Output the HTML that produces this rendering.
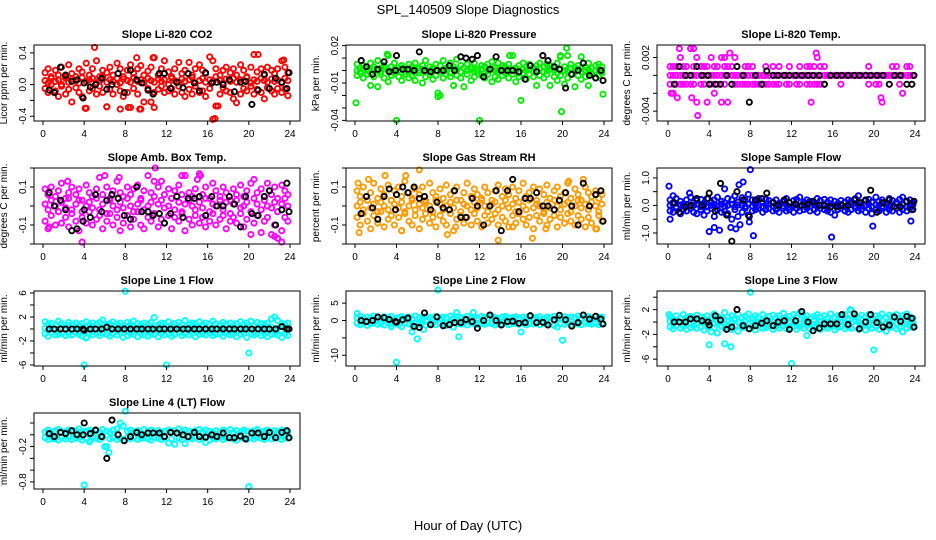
<!DOCTYPE html>
<html><head><meta charset="utf-8"><title>SPL_140509 Slope Diagnostics</title>
<style>
html,body{margin:0;padding:0;background:#fff;}
svg{display:block;font-family:"Liberation Sans",Arial,sans-serif;}
</style></head>
<body>
<svg id="chart" width="936" height="540" viewBox="0 0 936 540">
<text x="468" y="14" text-anchor="middle" font-size="13">SPL_140509  Slope Diagnostics</text>
<text x="468" y="530" text-anchor="middle" font-size="13">Hour of Day (UTC)</text>
</svg>
<script>
const hours=[0.2,0.5,0.8,1.2,1.5,1.8,2.2,2.5,2.8,3.2,3.5,3.8,4.2,4.5,4.8,5.2,5.5,5.8,6.2,6.5,6.8,7.2,7.5,7.8,8.2,8.5,8.8,9.2,9.5,9.8,10.2,10.5,10.8,11.2,11.5,11.8,12.2,12.5,12.8,13.2,13.5,13.8,14.2,14.5,14.8,15.2,15.5,15.8,16.2,16.5,16.8,17.2,17.5,17.8,18.2,18.5,18.8,19.2,19.5,19.8,20.2,20.5,20.8,21.2,21.5,21.8,22.2,22.5,22.8,23.2,23.5,23.8];
const blackHours=[0.6,1.1,1.7,2.2,2.8,3.3,3.9,4.0,4.6,5.1,5.7,6.2,6.7,7.3,7.9,8.5,9.1,9.6,10.2,10.7,11.3,11.8,12.4,13.0,13.6,14.1,14.7,15.2,15.8,16.4,16.9,17.5,18.1,18.6,19.2,19.7,20.3,20.9,21.5,22.0,22.6,23.2,23.7,23.9];
const xTicks=[0,4,8,12,16,20,24];

// CO2
const co2A=[0.15,0.2,0.1,0.18,0.12,0.22,0.08,0.25,0.14,0.1,0.2,0.16,0.27,0.12,0.2,0.3,0.1,0.18,0.15,0.22,0.12,0.27,0.2,0.1,0.18,0.25,0.14,0.2,0.24,0.12,0.17,0.22,0.34,0.12,0.2,0.3,0.16,0.1,0.2,0.28,0.14,0.18,0.28,0.12,0.2,0.25,0.18,0.14,0.35,0.3,0.2,0.12,0.18,0.22,0.15,0.2,0.12,0.25,0.18,0.1,0.22,0.38,0.16,0.2,0.12,0.22,0.18,0.14,0.2,0.3,0.22,0.15];
const co2B=[-0.05,-0.1,0.0,-0.08,-0.15,-0.02,-0.12,-0.06,-0.22,-0.04,-0.1,-0.15,-0.3,-0.08,-0.05,-0.12,-0.02,-0.1,-0.28,-0.06,-0.12,0.0,-0.08,-0.15,-0.1,-0.29,-0.05,-0.12,-0.31,-0.22,-0.05,-0.22,-0.1,-0.06,-0.02,-0.1,-0.08,-0.05,-0.12,-0.02,-0.1,-0.15,-0.06,-0.12,-0.02,-0.1,-0.08,-0.15,-0.05,-0.44,-0.27,-0.12,-0.04,-0.08,-0.1,-0.18,-0.23,-0.12,-0.05,-0.08,-0.02,-0.12,-0.06,-0.1,-0.18,-0.04,-0.08,-0.12,-0.05,-0.1,-0.06,-0.14];
const co2C=[0.05,0.02,0.08,0.04,0.06,0.0,0.1,0.03,0.07,0.05,0.02,0.09,0.04,0.06,0.08,0.02,0.05,0.1,0.03,0.06,0.04,0.08,0.02,0.07,0.05,0.03,0.09,0.04,0.06,0.02,0.08,0.05,0.03,0.07,0.04,0.06,0.0,0.08,0.05,0.03,0.07,0.04,0.06,0.09,0.02,0.05,0.08,0.03,0.06,0.04,0.1,0.05,0.02,0.07,0.04,0.08,0.03,0.06,0.05,0.09,0.02,0.06,0.04,0.08,0.05,0.03,0.07,0.04,0.06,0.02,0.08,0.05];
const co2OutX=[5.0,4.1,6.2,7.5,8.3,9.4,10.8,16.7,17.0,20.9,23.4,9.1,10.7];
const co2OutY=[0.47,-0.3,-0.28,-0.31,-0.29,-0.31,-0.29,-0.43,-0.27,0.38,0.31,0.34,0.34];
const co2Black=[-0.07,-0.1,0.22,0.12,0.04,0.06,-0.17,0.02,-0.03,0.0,0.08,-0.06,0.0,0.14,-0.1,0.18,0.06,0.02,-0.07,-0.12,0.14,0.14,-0.05,0.03,-0.04,0.14,0.02,-0.08,0.15,0.02,0.03,0.0,0.06,-0.09,0.03,0.04,-0.25,-0.07,0.13,-0.05,0.08,0.03,-0.05,0.15];

// Pressure
const presA=[0.005,0.002,0.004,0.001,0.006,0.003,0.008,0.002,0.004,0.012,0.003,0.006,0.002,0.004,0.001,0.005,0.003,0.006,0.002,0.004,0.008,0.003,0.001,0.005,0.004,0.008,0.002,0.006,0.003,0.009,0.004,0.002,0.005,0.003,0.006,0.001,0.004,0.003,0.005,0.007,0.002,0.006,0.004,0.003,0.005,0.012,0.002,0.004,0.006,0.003,0.005,0.002,0.004,0.006,0.003,0.005,0.004,0.002,0.006,0.011,0.003,0.012,0.005,0.002,0.004,0.011,0.003,0.006,0.002,0.004,0.005,0.003];
const presB=[-0.004,-0.002,-0.006,-0.003,-0.012,-0.005,-0.013,-0.003,-0.006,-0.009,-0.004,-0.002,-0.005,-0.008,-0.003,-0.006,-0.004,-0.008,-0.002,-0.01,-0.005,-0.003,-0.007,-0.004,-0.02,-0.006,-0.003,-0.005,-0.012,-0.004,-0.006,-0.013,-0.003,-0.008,-0.005,-0.002,-0.004,-0.006,-0.003,-0.009,-0.005,-0.007,-0.004,-0.002,-0.006,-0.003,-0.009,-0.005,-0.002,-0.007,-0.003,-0.005,-0.012,-0.004,-0.006,-0.003,-0.012,-0.005,-0.008,-0.004,-0.011,-0.006,-0.003,-0.013,-0.004,-0.007,-0.005,-0.012,-0.003,-0.006,-0.004,-0.002];
const presC=[0.0,-0.001,0.001,0.0,-0.002,0.001,0.0,-0.001,0.002,0.0,-0.001,0.001,0.0,0.002,-0.001,0.0,0.001,-0.002,0.0,0.001,-0.001,0.0,0.002,0.0,-0.001,0.001,0.0,-0.002,0.001,0.0,-0.001,0.002,0.0,0.001,-0.001,0.0,0.001,-0.002,0.0,0.001,0.0,-0.001,0.002,0.0,-0.001,0.001,0.0,-0.002,0.001,0.0,0.001,-0.001,0.0,0.002,-0.001,0.0,0.001,0.0,-0.002,0.001,0.0,-0.001,0.002,0.0,0.001,-0.001,0.0,0.001,-0.002,0.0,0.001,0.0];
const presOutX=[0.1,4.0,12.0,8.0,8.0,16.0,19.9,20.4,23.9,3.1,10.2,14.9,19.8];
const presOutY=[-0.026,-0.04,-0.04,-0.018,-0.021,-0.024,-0.033,0.018,-0.019,0.013,0.011,0.012,0.012];
const presBlack=[0.008,0.003,-0.003,0.001,0.007,-0.001,0.0,0.012,0.001,0.001,0.0,0.015,0.0,-0.001,0.0,0.0,0.004,0.0,0.011,0.01,0.009,0.012,-0.005,0.001,0.011,0.0,0.0,0.0,-0.001,-0.007,0.004,-0.001,0.012,0.008,0.003,0.001,-0.014,-0.003,0.0,0.006,-0.004,-0.006,0.0,-0.008];

// Li-820 Temp
const tempA=[0.001,0.001,0.001,0.002,0.001,0.001,0.003,0.001,0.002,0.001,0.001,0.001,0.002,0.001,0.001,0.002,0.001,0.001,0.001,0.002,0.0,0.0,0.001,0.001,0.001,0.0,0.0,0.0,0.001,0.0,0.001,0,0.001,0,0,0.001,0,0,0.001,0,0.001,0.001,0.001,0.002,0.001,0.001,0,0,0,0,0,0,0,0,0,0,0,0,0.001,0,0,0,0,0,0,0.001,0.001,0,0,0.001,0.001,0];
const tempB=[-0.001,-0.002,-0.001,-0.001,-0.001,-0.001,-0.001,-0.001,-0.003,-0.001,-0.001,-0.003,-0.001,-0.002,-0.001,-0.003,-0.001,-0.003,-0.001,-0.001,-0.001,-0.001,-0.001,-0.001,-0.001,-0.001,-0.001,-0.001,-0.001,-0.001,-0.001,-0.001,-0.001,0,-0.001,-0.001,0,-0.001,-0.001,0,-0.001,-0.001,-0.001,-0.001,-0.001,-0.001,0,0,0,0,-0.001,0,0,0,0,0,0,0,-0.001,0,-0.001,-0.001,-0.003,0,0,0,0,-0.001,-0.002,0,0,0];
const tempC=[0,0,0,0,0,0,0,0,0,0,0,0,0,0,0,0,0,0,0,0,0,0,0,0,0,0,0,0,0,0,0,0,0,0,0,0,0,0,0,0,0,0,0,0,0,0,0,0,0,0,0,0,0,0,0,0,0,0,0,0,0,0,0,0,0,0,0,0,0,0,0,0];
const tempOutX=[1.1,2.5,2.9,14.4,13.9,20.7,0.9,2.3,0.3,5.5,6.0];
const tempOutY=[0.003,0.003,-0.0045,0.0025,-0.003,-0.0025,-0.0025,-0.0025,-0.002,0.002,0.0025];
const tempBlack=[-0.001,0.001,0,0,0.001,0,0,-0.001,-0.001,-0.001,0,-0.001,0.001,0,-0.003,0,-0.001,0.0005,0,0,0,0,0,0,0,0,0,-0.001,0,0,0,0,0,0,0,0,0,0,-0.001,0,0,-0.001,-0.001,0];

// Amb Box Temp
const ambA=[0.09,0.06,0.1,0.05,0.08,0.12,0.04,0.07,0.1,0.06,0.09,0.03,0.11,0.07,0.05,0.09,0.15,0.06,0.1,0.04,0.08,0.13,0.07,0.05,0.1,0.06,0.09,0.11,0.04,0.08,0.16,0.07,0.05,0.1,0.13,0.06,0.09,0.04,0.08,0.11,0.06,0.16,0.07,0.05,0.09,0.17,0.06,0.1,0.04,0.12,0.08,0.05,0.1,0.07,0.03,0.09,0.06,0.11,0.05,0.08,0.12,0.14,0.07,0.09,0.05,0.12,0.06,0.1,0.04,0.11,0.08,0.06];
const ambB=[-0.08,-0.12,-0.05,-0.1,-0.03,-0.09,-0.06,-0.11,-0.04,-0.08,-0.13,-0.06,-0.09,-0.03,-0.1,-0.07,-0.05,-0.12,-0.08,-0.04,-0.1,-0.06,-0.13,-0.09,-0.05,-0.11,-0.07,-0.03,-0.1,-0.12,-0.06,-0.08,-0.04,-0.11,-0.07,-0.09,-0.05,-0.12,-0.06,-0.08,-0.04,-0.13,-0.07,-0.1,-0.05,-0.09,-0.06,-0.11,-0.08,-0.04,-0.1,-0.07,-0.05,-0.12,-0.08,-0.06,-0.09,-0.04,-0.11,-0.07,-0.15,-0.09,-0.05,-0.14,-0.08,-0.06,-0.15,-0.1,-0.17,-0.13,-0.06,-0.08];
const ambC=[0.01,-0.02,0.03,0.0,-0.03,0.02,-0.01,0.04,-0.02,0.01,0.03,-0.03,0.0,0.02,-0.01,0.04,-0.02,0.01,-0.04,0.03,0.0,-0.02,0.02,-0.01,0.04,0.0,-0.03,0.01,0.03,-0.02,0.0,0.02,-0.04,0.01,0.03,-0.01,0.0,0.04,-0.02,0.02,-0.03,0.01,0.03,0.0,-0.02,0.02,-0.01,0.04,-0.03,0.01,0.0,0.03,-0.02,0.02,-0.04,0.01,0.03,-0.01,0.0,0.02,-0.03,0.04,0.01,-0.02,0.03,0.0,-0.01,0.02,-0.03,0.01,0.04,0.0];
const ambOutX=[3.8,10.9,13.5,15.3,6.0,7.4,10.8,23.2,22.5,0.6,2.4,15.0];
const ambOutY=[-0.19,0.2,0.16,0.16,0.16,0.15,0.13,-0.19,-0.16,-0.11,0.13,0.14];
const ambBlack=[0.07,0.0,0.03,-0.02,-0.13,-0.12,-0.08,-0.02,-0.06,0.06,-0.03,0.03,0.06,0.04,-0.05,-0.07,0.1,-0.03,-0.03,-0.05,-0.04,-0.09,-0.04,0.05,-0.06,0.04,0.04,0.05,-0.05,0.05,0.0,0.0,0.05,0.01,-0.11,0.05,-0.04,-0.05,0.05,0.08,-0.1,-0.02,0.12,-0.03];

// Gas Stream RH
const rhA=[0.08,0.05,0.1,0.03,0.07,0.12,0.04,0.09,0.06,0.11,0.03,0.08,0.1,0.05,0.13,0.07,0.04,0.09,0.06,0.1,0.03,0.12,0.07,0.05,0.09,0.04,0.11,0.06,0.08,0.1,0.03,0.07,0.12,0.05,0.09,0.06,0.04,0.1,0.07,0.03,0.08,0.11,0.05,0.09,0.06,0.1,0.04,0.08,0.12,0.05,0.07,0.1,0.03,0.09,0.06,0.11,0.04,0.08,0.1,0.05,0.07,0.12,0.04,0.09,0.06,0.03,0.1,0.07,0.05,0.08,0.04,0.06];
const rhB=[-0.06,-0.1,-0.04,-0.08,-0.12,-0.05,-0.09,-0.03,-0.11,-0.07,-0.05,-0.1,-0.06,-0.13,-0.04,-0.08,-0.1,-0.05,-0.12,-0.07,-0.04,-0.09,-0.06,-0.11,-0.05,-0.08,-0.1,-0.04,-0.13,-0.07,-0.05,-0.09,-0.06,-0.1,-0.04,-0.08,-0.11,-0.05,-0.09,-0.07,-0.04,-0.1,-0.06,-0.08,-0.11,-0.05,-0.09,-0.04,-0.07,-0.1,-0.06,-0.12,-0.05,-0.08,-0.04,-0.1,-0.07,-0.05,-0.11,-0.06,-0.09,-0.04,-0.08,-0.1,-0.05,-0.07,-0.11,-0.06,-0.09,-0.12,-0.05,-0.08];
const rhC=[0.0,0.02,-0.02,0.03,-0.01,0.01,-0.03,0.02,0.0,-0.02,0.03,0.01,-0.01,0.02,-0.03,0.0,0.03,-0.02,0.01,-0.01,0.02,0.0,-0.03,0.03,0.01,-0.02,0.0,0.02,-0.01,0.03,-0.03,0.01,0.0,-0.02,0.02,-0.01,0.03,0.0,-0.03,0.01,0.02,-0.02,0.0,0.03,-0.01,0.01,-0.03,0.02,0.0,-0.02,0.03,-0.01,0.01,0.0,-0.03,0.02,-0.01,0.03,0.0,-0.02,0.01,0.02,-0.03,0.0,0.03,-0.01,0.01,-0.02,0.02,0.0,-0.03,0.01];
const rhOutX=[0.3,0.4,2.9,6.2,4.9,8.9,13.8,17.1,18.4,22.0,23.3,15.2,4.5,9.7,1.3,20.6];
const rhOutY=[0.12,-0.14,0.16,0.19,0.16,-0.15,-0.18,-0.17,-0.12,0.14,-0.12,-0.11,-0.13,-0.11,0.14,0.13];
const rhBlack=[-0.04,0.05,-0.01,-0.07,0.05,0.09,-0.02,0.06,0.1,0.07,0.1,0.04,0.05,-0.02,0.02,-0.01,-0.02,0.08,-0.06,-0.06,0.04,0.0,-0.1,0.0,0.08,-0.13,0.08,0.14,-0.03,0.04,0.04,0.07,0.0,0.0,-0.02,0.03,0.07,0.0,-0.1,0.12,0.0,0.06,0.08,-0.08];

// Sample Flow
const sfA=[0.2,0.1,0.25,0.15,0.05,0.2,0.3,0.1,0.18,0.22,0.08,0.25,0.12,0.2,0.3,0.15,0.1,0.25,0.2,0.35,0.12,0.28,0.18,0.4,0.2,0.15,0.25,0.1,0.22,0.18,0.12,0.2,0.08,0.15,0.25,0.1,0.18,0.22,0.3,0.12,0.2,0.15,0.1,0.25,0.18,0.22,0.12,0.2,0.15,0.08,0.18,0.12,0.2,0.15,0.25,0.35,0.1,0.18,0.22,0.12,0.3,0.15,0.2,0.1,0.25,0.18,0.12,0.22,0.3,0.15,0.2,0.1];
const sfB=[-0.2,-0.25,-0.1,-0.3,-0.15,-0.2,-0.1,-0.25,-0.3,-0.15,-0.35,-0.2,-0.1,-0.4,-0.15,-0.25,-0.2,-0.3,-0.5,-0.15,-0.4,-0.25,-0.1,-0.35,-0.2,-0.15,-0.1,-0.25,-0.15,-0.1,-0.2,-0.15,-0.25,-0.1,-0.2,-0.15,-0.25,-0.1,-0.2,-0.15,-0.1,-0.2,-0.15,-0.25,-0.1,-0.15,-0.2,-0.25,-0.35,-0.15,-0.1,-0.2,-0.25,-0.15,-0.1,-0.2,-0.15,-0.25,-0.1,-0.3,-0.15,-0.2,-0.1,-0.25,-0.15,-0.2,-0.1,-0.25,-0.15,-0.2,-0.1,-0.15];
const sfC=[0.0,0.05,-0.05,0.02,-0.03,0.04,-0.02,0.0,0.05,-0.04,0.02,-0.05,0.0,0.03,-0.02,0.05,-0.03,0.0,0.04,-0.05,0.02,0.0,-0.03,0.05,-0.02,0.03,0.0,-0.04,0.02,0.05,-0.03,0.0,0.04,-0.02,0.03,-0.05,0.0,0.02,-0.03,0.05,0.0,-0.02,0.04,-0.04,0.02,0.0,-0.03,0.05,0.0,-0.02,0.03,-0.04,0.0,0.05,-0.02,0.02,-0.03,0.0,0.04,-0.05,0.02,0.0,-0.03,0.04,-0.02,0.0,0.05,-0.03,0.02,-0.04,0.0,0.03];
const sfOutX=[0.1,0.2,0.5,4.0,4.5,5.5,6.1,6.6,6.9,7.3,7.0,8.0,8.3,7.9,15.9,19.9,23.6,2.1,5.0];
const sfOutY=[0.7,-0.5,0.35,-0.95,-0.8,0.6,-0.8,-0.85,0.75,0.85,-0.7,1.3,-1.1,-0.6,-1.15,-0.75,-0.57,0.45,-0.9];
const sfBlack=[0.1,-0.25,-0.05,0.0,0.25,0.0,0.25,0.45,-0.2,0.8,-0.35,-1.3,0.5,0.2,-0.4,0.2,0.25,0.45,0.1,0.0,0.2,0.1,0.05,0.0,0.05,0.15,0.0,0.0,-0.05,-0.05,0.0,0.0,0.2,0.1,0.2,0.55,-0.25,0.1,0.2,-0.05,-0.05,0.15,-0.15,0.15];

// Line 1 Flow
const l1A=[1.2,0.8,1.0,0.6,1.3,0.9,0.7,1.1,0.8,1.0,0.6,0.9,1.2,0.7,1.0,0.8,1.1,1.5,0.7,0.9,1.2,0.8,1.0,0.6,1.1,0.8,1.3,0.9,0.7,1.0,0.8,1.1,1.9,0.7,1.0,0.9,1.2,0.6,0.9,1.1,0.7,1.4,0.8,1.0,0.9,1.2,0.7,1.0,0.8,1.3,0.9,0.7,1.1,0.8,1.0,0.6,0.9,1.2,0.8,1.0,1.3,0.7,1.1,0.9,0.8,1.0,1.7,2.0,1.4,0.9,0.8,1.0];
const l1B=[-0.8,-1.2,-0.6,-1.0,-0.9,-0.7,-1.1,-0.8,-1.0,-0.6,-0.9,-1.2,-1.4,-0.7,-1.0,-0.8,-1.1,-0.7,-0.9,-1.2,-0.8,-1.0,-0.6,-1.4,-1.1,-0.8,-0.9,-1.3,-0.7,-1.0,-1.2,-0.8,-0.9,-1.3,-0.7,-1.0,-0.8,-1.2,-0.9,-0.6,-1.1,-0.8,-1.0,-0.7,-1.3,-0.9,-0.8,-1.0,-0.7,-1.1,-0.9,-0.8,-1.2,-0.7,-1.0,-0.8,-1.3,-0.9,-0.7,-1.4,-0.8,-1.0,-0.7,-1.1,-0.8,-1.3,-0.9,-0.7,-1.0,-1.4,-0.8,-1.1];
const l1C=[0.1,-0.2,0.3,0.0,-0.3,0.2,-0.1,0.3,-0.2,0.1,0.0,-0.3,0.2,-0.1,0.3,0.0,-0.2,0.1,0.3,-0.3,0.0,0.2,-0.1,0.1,-0.2,0.3,0.0,-0.3,0.2,-0.1,0.1,0.0,-0.2,0.3,-0.1,0.2,0.0,-0.3,0.1,0.3,-0.2,0.0,0.2,-0.1,0.3,-0.3,0.0,0.1,-0.2,0.2,0.0,-0.1,0.3,-0.3,0.1,0.0,-0.2,0.2,-0.1,0.3,0.0,-0.3,0.1,0.2,-0.2,0.0,0.3,-0.1,0.1,-0.3,0.2,0.0];
const l1OutX=[8.0,4.0,12.0,20.0,4.2];
const l1OutY=[6.3,-6.0,-6.0,-4.0,-1.5];
const l1Black=[0.0,0.0,0.0,0.0,0.0,0.0,0.0,-0.2,0.0,0.0,0.0,0.3,0.0,0.0,0.0,0.0,0.0,0.0,0.0,0.0,0.0,0.0,0.0,0.0,0.0,0.0,0.0,0.0,0.0,0.0,0.0,0.0,0.0,0.0,0.0,0.0,0.0,0.0,0.0,0.0,0.0,0.4,0.0,0.0];

// Line 2 Flow
const l2A=[0.8,1.2,0.5,1.0,0.7,1.3,0.9,0.6,1.1,0.8,1.2,0.5,0.9,1.1,0.7,1.0,0.6,1.3,0.8,0.5,1.1,0.9,0.7,1.2,0.6,1.0,0.8,1.3,0.7,1.1,0.9,0.5,1.2,0.8,1.0,0.6,1.1,0.9,0.7,1.3,0.8,0.5,1.0,1.2,0.7,0.9,1.1,0.6,1.0,0.8,1.2,0.7,0.9,1.1,0.5,1.0,0.8,1.2,0.6,0.9,1.1,0.7,1.0,0.8,1.3,0.6,0.9,1.1,0.7,1.2,0.8,1.0];
const l2B=[-0.8,-1.2,-0.6,-1.4,-0.9,-0.7,-1.1,-0.8,-1.3,-0.6,-1.0,-0.9,-1.2,-1.8,-0.7,-1.0,-1.4,-0.8,-1.1,-0.6,-1.3,-0.9,-0.7,-1.2,-0.8,-1.0,-1.4,-0.7,-1.9,-0.9,-1.1,-0.8,-1.3,-0.6,-1.0,-1.2,-0.8,-1.1,-0.7,-0.9,-1.3,-0.8,-1.0,-0.6,-1.2,-0.9,-0.7,-1.1,-0.8,-1.3,-0.9,-1.0,-0.7,-1.2,-0.8,-1.0,-0.6,-1.4,-1.9,-0.9,-1.1,-0.7,-1.3,-0.8,-1.0,-1.2,-0.7,-0.9,-1.1,-0.8,-1.2,-0.9];
const l2OutX=[8.0,4.0,10.0,6.0,5.5,16.0,20.0,0.2,9.8,11.4,3.5,6.6];
const l2OutY=[8.8,-12.0,-4.7,-5.3,-3.3,-3.3,-5.7,2.0,2.3,2.3,-1.8,-2.6];
const l2Black=[0.0,-0.3,0.0,1.0,0.8,0.3,-0.3,-0.5,0.2,0.7,-1.7,-2.0,2.2,-1.2,1.0,-1.5,-1.2,-0.6,-0.6,0.3,-0.3,-2.2,0.0,1.6,0.0,-1.3,-0.3,-0.2,-0.8,-0.6,1.4,-0.6,-0.5,-1.3,0.2,1.5,0.2,-1.6,-0.6,1.6,0.4,1.2,0.4,-1.0];

// Line 3 Flow
const l3A=[0.8,0.5,1.0,0.6,1.2,0.7,0.9,0.5,1.1,0.8,0.6,1.0,0.7,1.3,0.9,0.6,1.5,0.8,1.0,0.6,1.2,0.7,0.9,1.3,0.6,1.0,0.8,1.2,0.5,0.9,1.1,0.7,1.0,1.4,0.6,0.9,1.2,0.8,1.5,0.7,1.0,0.6,0.9,1.2,0.8,1.0,0.6,1.3,0.7,1.0,0.8,1.2,0.6,1.9,0.9,0.7,1.1,0.8,1.2,0.6,1.0,0.8,1.3,0.7,1.1,0.9,1.2,0.6,1.0,1.3,0.8,0.6];
const l3B=[-0.8,-1.1,-0.6,-1.0,-0.7,-1.2,-0.9,-0.6,-1.0,-0.8,-1.3,-0.7,-1.6,-0.9,-1.8,-0.7,-1.0,-0.8,-1.2,-0.6,-1.5,-0.9,-0.7,-1.1,-0.8,-1.3,-0.6,-1.0,-0.9,-0.7,-1.2,-0.8,-1.0,-0.6,-1.1,-0.9,-0.7,-1.2,-0.8,-1.0,-0.6,-1.1,-0.9,-0.7,-1.2,-0.8,-1.0,-0.6,-1.3,-0.9,-0.7,-1.1,-0.8,-1.0,-0.6,-1.2,-0.9,-1.3,-0.7,-1.0,-0.8,-1.2,-0.6,-1.5,-0.9,-0.7,-1.1,-0.8,-1.6,-1.0,-0.7,-0.9];
const l3C=[0.1,-0.2,0.2,0.0,-0.3,0.3,-0.1,0.1,-0.2,0.2,0.0,-0.1,0.3,-0.3,0.1,0.0,-0.2,0.2,-0.1,0.3,0.0,-0.3,0.1,-0.2,0.2,0.0,-0.1,0.3,-0.2,0.1,0.0,-0.3,0.2,-0.1,0.3,0.0,-0.2,0.1,-0.3,0.2,0.0,-0.1,0.3,-0.2,0.1,0.0,-0.3,0.2,-0.1,0.1,0.0,-0.2,0.3,-0.1,0.2,0.0,-0.3,0.1,-0.2,0.3,0.0,-0.1,0.2,-0.3,0.1,0.0,-0.2,0.2,-0.1,0.3,0.0,-0.2];
const l3OutX=[8.0,12.0,4.0,5.5,6.1,20.0,13.5,17.7,0.1];
const l3OutY=[4.8,-6.7,-3.7,-3.5,-4.0,-4.5,-2.2,2.0,1.2];
const l3Black=[0.0,0.0,0.0,0.5,0.5,0.2,0.0,-0.5,1.0,0.3,-1.2,-0.8,2.0,-0.6,-1.1,-0.6,-0.2,0.2,-0.6,0.0,0.2,-1.2,0.2,1.7,0.0,-1.4,-1.0,-0.3,-0.3,-0.3,1.2,-0.4,1.3,-1.1,0.0,1.2,-0.1,-0.8,-0.5,0.8,0.1,0.9,0.6,-0.8];

// Line 4 (LT) Flow
const l4A=[0.05,0.08,0.04,0.07,0.09,0.05,0.06,0.08,0.04,0.07,0.1,0.05,0.06,0.08,0.04,0.07,0.05,0.09,0.06,0.04,0.08,0.1,0.2,0.15,0.06,0.08,0.05,0.07,0.04,0.09,0.06,0.08,0.05,0.07,0.04,0.06,0.08,0.05,0.07,0.1,0.05,0.08,0.06,0.04,0.07,0.09,0.05,0.08,0.06,0.04,0.07,0.05,0.08,0.06,0.09,0.04,0.07,0.05,0.08,0.06,0.04,0.07,0.09,0.05,0.06,0.08,0.04,0.07,0.05,0.08,0.06,0.05];
const l4B=[-0.05,-0.08,-0.04,-0.06,-0.09,-0.05,-0.07,-0.04,-0.08,-0.06,-0.05,-0.09,-0.07,-0.12,-0.05,-0.06,-0.08,-0.04,-0.2,-0.07,-0.05,-0.08,-0.06,-0.09,-0.05,-0.07,-0.04,-0.08,-0.06,-0.05,-0.07,-0.09,-0.04,-0.06,-0.08,-0.05,-0.14,-0.07,-0.16,-0.06,-0.08,-0.15,-0.05,-0.07,-0.04,-0.08,-0.06,-0.13,-0.09,-0.05,-0.07,-0.04,-0.08,-0.06,-0.05,-0.07,-0.09,-0.04,-0.06,-0.08,-0.05,-0.07,-0.04,-0.06,-0.08,-0.05,-0.07,-0.04,-0.06,-0.08,-0.05,-0.06];
const l4OutX=[4.0,20.0,6.4,8.0,6.0,4.6,1.0];
const l4OutY=[-0.85,-0.88,-0.3,0.4,-0.2,-0.1,-0.07];
const l4Black=[0.02,-0.03,0.04,0.02,0.07,0.0,0.0,0.2,0.02,0.08,-0.03,-0.4,0.25,0.0,-0.1,-0.03,0.04,0.0,0.03,0.03,0.03,-0.03,0.04,0.03,0.0,-0.03,0.04,-0.03,-0.04,0.0,-0.03,0.03,-0.05,-0.05,-0.02,-0.07,0.03,0.03,-0.03,0.04,-0.05,0.04,0.07,-0.05];

const svg=document.getElementById('chart');
const NS='http://www.w3.org/2000/svg';
function el(tag,attrs,parent){const e=document.createElementNS(NS,tag);for(const k in attrs)e.setAttribute(k,attrs[k]);(parent||svg).appendChild(e);return e;}

const cols=[{l:34,r:300,x0:43,x24:290},{l:346,r:612,x0:355,x24:604},{l:657,r:925,x0:668,x24:915}];
const rows=[{t:45,b:121},{t:168,b:244},{t:291,b:366},{t:413,b:489}];

const panels=[
 {id:'co2',title:'Slope Li-820 CO2',ylab:'Licor ppm per min.',c:0,r:0,ymin:-0.46,ymax:0.5,ticks:[-0.4,-0.2,0,0.2,0.4],labels:['-0.4','','0.0','','0.4'],color:'#ff0000',series:[co2B,co2A,co2C],ox:co2OutX,oy:co2OutY,black:co2Black},
 {id:'pressure',title:'Slope Li-820 Pressure',ylab:'kPa per min.',c:1,r:0,ymin:-0.0405,ymax:0.0205,ticks:[0.02,0.01,0,-0.01,-0.02,-0.03,-0.04],labels:['0.02','','','-0.01','','','-0.04'],color:'#00ee00',series:[presA,presB,presC],ox:presOutX,oy:presOutY,black:presBlack},
 {id:'licor-temp',title:'Slope Li-820 Temp.',ylab:'degrees C per min.',c:2,r:0,ymin:-0.0051,ymax:0.0034,ticks:[0.002,0,-0.002,-0.004],labels:['0.002','','','-0.004'],color:'#ff00ff',series:[tempB,tempA,tempC],ox:tempOutX,oy:tempOutY,black:tempBlack},
 {id:'amb-temp',title:'Slope Amb. Box Temp.',ylab:'degrees C per min.',c:0,r:1,ymin:-0.2,ymax:0.2,ticks:[0.2,0.1,0,-0.1,-0.2],labels:['','0.1','','-0.1',''],color:'#ff00ff',series:[ambA,ambB,ambC],ox:ambOutX,oy:ambOutY,black:ambBlack},
 {id:'rh',title:'Slope Gas Stream RH',ylab:'percent per min.',c:1,r:1,ymin:-0.2,ymax:0.2,ticks:[0.2,0.1,0,-0.1,-0.2],labels:['','0.1','','-0.1',''],color:'#ff9900',series:[rhA,rhB,rhC],ox:rhOutX,oy:rhOutY,black:rhBlack},
 {id:'sample-flow',title:'Slope Sample Flow',ylab:'ml/min per min.',c:2,r:1,ymin:-1.4,ymax:1.36,ticks:[1,0.5,0,-0.5,-1],labels:['1.0','','0.0','','-1.0'],color:'#0000ff',series:[sfA,sfB,sfC],ox:sfOutX,oy:sfOutY,black:sfBlack},
 {id:'line1',title:'Slope Line 1 Flow',ylab:'ml/min per min.',c:0,r:2,ymin:-6.17,ymax:6.33,ticks:[6,4,2,0,-2,-4,-6],labels:['6','','2','','-2','','-6'],color:'#00ffff',series:[l1A,l1B,l1C],ox:l1OutX,oy:l1OutY,black:l1Black},
 {id:'line2',title:'Slope Line 2 Flow',ylab:'ml/min per min.',c:1,r:2,ymin:-13.1,ymax:8.5,ticks:[5,0,-5,-10],labels:['5','0','','-10'],color:'#00ffff',series:[l2A,l2B],ox:l2OutX,oy:l2OutY,black:l2Black},
 {id:'line3',title:'Slope Line 3 Flow',ylab:'ml/min per min.',c:2,r:2,ymin:-7.1,ymax:5.0,ticks:[4,2,0,-2,-4,-6],labels:['','2','','-2','','-6'],color:'#00ffff',series:[l3A,l3B,l3C],ox:l3OutX,oy:l3OutY,black:l3Black},
 {id:'line4',title:'Slope Line 4 (LT) Flow',ylab:'ml/min per min.',c:0,r:3,ymin:-0.92,ymax:0.37,ticks:[0.2,0,-0.2,-0.4,-0.6,-0.8],labels:['','','-0.2','','','-0.8'],color:'#00ffff',series:[l4A,l4B],ox:l4OutX,oy:l4OutY,black:l4Black}
];

function dot(g,x,y,color,sw){
  const c=el('circle',{cx:x.toFixed(1),cy:y.toFixed(1),r:2.6,fill:'none',stroke:color,'stroke-width':sw},g);
  return c;
}

panels.forEach(p=>{
  const col=cols[p.c], row=rows[p.r];
  const xs=v=>col.x0+(v/24)*(col.x24-col.x0);
  const ys=v=>row.b-(v-p.ymin)/(p.ymax-p.ymin)*(row.b-row.t);
  const g=el('g',{});
  
  
  const t=el('text',{x:(col.l+col.r)/2,y:row.t-7,'text-anchor':'middle','font-size':11,'font-weight':'bold'},g);
  t.textContent=p.title;
  
  
  const cx=col.l-27, cy=(row.t+row.b)/2;
  const yl=el('text',{x:cx,y:cy,'text-anchor':'middle','font-size':10,transform:`rotate(-90 ${cx} ${cy})`},g);
  yl.textContent=p.ylab;
  
  
  // points
  const pts=el('g',{},g);
  
  
  p.series.forEach(s=>{
    for(let i=0;i<s.length&&i<hours.length;i++){
      const v=Math.max(p.ymin,Math.min(p.ymax,s[i]));
      const d=dot(pts,xs(hours[i]),ys(v),p.color,1.9);
      
      
    }
  });
  for(let i=0;i<p.ox.length;i++){
    const d=dot(pts,xs(p.ox[i]),ys(p.oy[i]),p.color,1.9);
    
    
  }
  for(let i=0;i<p.black.length&&i<blackHours.length;i++){
    const d=dot(pts,xs(blackHours[i]),ys(p.black[i]),'#000',1.9);
    
    
  }
  // box
  const box=el('rect',{x:col.l,y:row.t,width:col.r-col.l,height:row.b-row.t,fill:'none',stroke:'#000','stroke-width':1},g);
  
  
  // y ticks
  const ya=el('g',{},g);
  
  
  p.ticks.forEach((tv,i)=>{
    const y=ys(tv);
    el('line',{x1:col.l-4,x2:col.l,y1:y,y2:y,stroke:'#000'},ya);
    if(p.labels[i]){
      const lx=col.l-8;
      const tl=el('text',{x:lx,y:y,'text-anchor':'middle','font-size':10,transform:`rotate(-90 ${lx} ${y})`},ya);
      tl.textContent=p.labels[i];
      
      
    }
  });
  // x ticks
  const xa=el('g',{},g);
  
  
  xTicks.forEach(tv=>{
    const x=xs(tv);
    el('line',{x1:x,x2:x,y1:row.b,y2:row.b+4,stroke:'#000'},xa);
    const tl=el('text',{x:x,y:row.b+16,'text-anchor':'middle','font-size':10},xa);
    tl.textContent=String(tv);
    
    
  });
});
</script>
</body></html>
